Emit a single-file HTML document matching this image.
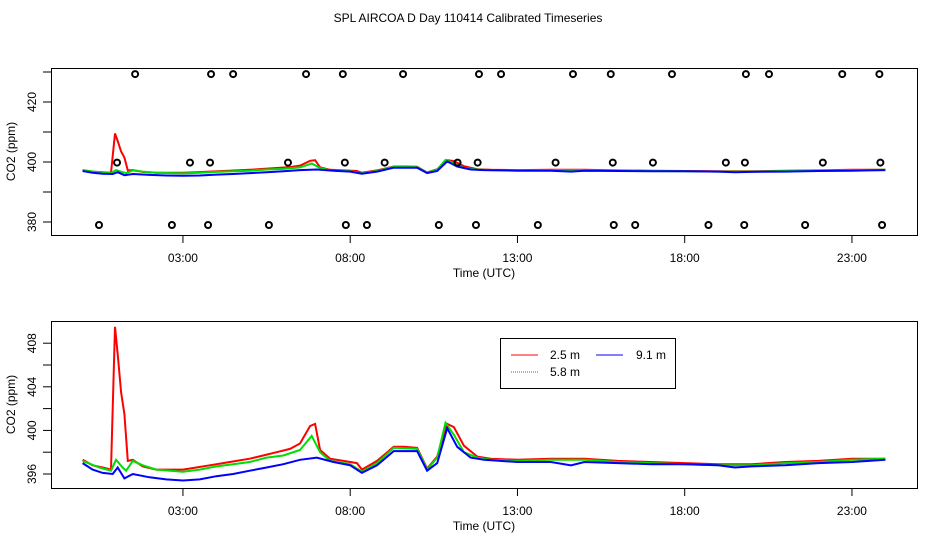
<!DOCTYPE html>
<html><head><meta charset="utf-8"><style>
html,body{margin:0;padding:0;background:#fff}
svg{display:block;font-family:"Liberation Sans",sans-serif}
</style></head><body>
<svg id="c" width="936" height="540" viewBox="0 0 936 540"></svg>
<script>
// Data (time in hours UTC, CO2 in ppm)
const redT=[0,.3,.6,.85,.9,.97,1.05,1.15,1.25,1.35,1.5,1.8,2.2,2.6,3.0,3.4,3.8,4.2,4.6,5.0,5.4,5.8,6.2,6.5,6.8,6.95,7.1,7.4,7.8,8.2,8.35,8.8,9.3,9.6,10.0,10.3,10.6,10.9,11.1,11.4,11.8,12.2,13,14,15,16,17,18,19,20,21,22,23,24];
const redV=[397.3,396.8,396.6,396.4,402,409.5,407,403.5,401.5,397.2,397.3,396.7,396.4,396.4,396.4,396.6,396.8,397,397.2,397.4,397.7,398,398.3,398.8,400.4,400.6,398.2,397.4,397.2,397.0,396.4,397.2,398.5,398.5,398.4,396.5,397.6,400.6,400.3,398.6,397.6,397.4,397.3,397.4,397.4,397.2,397.1,397.0,396.9,396.9,397.1,397.2,397.4,397.4];
const greenT=[0,.5,.85,1.0,1.2,1.3,1.5,1.8,2.2,3.0,3.5,4,4.5,5,5.5,6,6.5,6.85,7.1,7.4,8,8.35,8.8,9.3,10,10.3,10.6,10.85,11.1,11.4,11.8,12.2,13,14,15,16,17,18,19,20,21,22,23,24];
const greenV=[397.2,396.6,396.3,397.3,396.6,396.3,397.2,396.8,396.4,396.2,396.4,396.7,396.9,397.1,397.5,397.7,398.2,399.5,398,397.2,396.9,396.2,397,398.4,398.3,396.4,397.5,400.7,399.6,398,397.5,397.3,397.2,397.3,397.3,397.1,397.0,396.9,396.8,396.8,397.0,397.1,397.3,397.4];
const blueT=[0,.3,.6,.9,1.05,1.25,1.5,2,2.5,3,3.5,4,4.5,5,5.5,6,6.5,7,7.5,8,8.35,8.8,9.3,10,10.3,10.6,10.9,11.2,11.6,12,13,14,14.6,15,16,17,18,19,19.5,20,21,22,23,23.5,24];
const blueV=[397.0,396.4,396.1,396.0,396.6,395.6,396.0,395.7,395.5,395.4,395.5,395.8,396.0,396.3,396.6,396.9,397.3,397.5,397.1,396.8,396.1,396.8,398.1,398.1,396.3,397.0,400.2,398.5,397.5,397.3,397.1,397.1,396.8,397.1,397.0,396.9,396.9,396.8,396.6,396.7,396.8,397.0,397.1,397.2,397.3];
const flagTopT=[1.57,3.84,4.50,6.68,7.78,9.58,11.85,12.51,14.66,15.79,17.62,19.83,20.52,22.71,23.82];
const flagMidT=[1.03,3.21,3.81,6.14,7.84,9.03,11.21,11.81,14.14,15.85,17.05,19.23,19.80,22.13,23.85];
const flagLowT=[0.49,2.67,3.75,5.57,7.87,8.50,10.65,11.76,13.61,15.88,16.52,18.71,19.78,21.60,23.90];
const flagTopV=429.3, flagMidV=399.8, flagLowV=379;
const xTicks=[3,8,13,18,23];
const xTickLabels=["03:00","08:00","13:00","18:00","23:00"];
const y1Ticks=[380,390,400,410,420,430], y1Labels=[380,400,420];
const y2Ticks=[396,398,400,402,404,406,408], y2Labels=[396,400,404,408];

const svg=document.getElementById('c');
const NS='http://www.w3.org/2000/svg';
function mk(tag,attrs,parent){const e=document.createElementNS(NS,tag);for(const k in attrs)e.setAttribute(k,attrs[k]);(parent||svg).appendChild(e);return e;}
const X=t=>82.6+t*33.45;
const Y1=v=>162-(v-400)*3;
const Y2=v=>474-(v-396)*10.9;

let t=mk('text',{x:468,y:22,'text-anchor':'middle','font-size':12});
t.textContent='SPL AIRCOA D  Day 110414  Calibrated Timeseries';



function panel(top,bottom,Y,yt,yl,name){
  const g=mk('g',{});
  
  
  const r=mk('rect',{x:51.5,y:top+0.5,width:866,height:bottom-top,fill:'none',stroke:'#000','stroke-width':1},g);
  
  
  xTicks.forEach((h,i)=>{
    mk('line',{x1:X(h),x2:X(h),y1:bottom,y2:bottom+8,stroke:'#000','stroke-width':1},g);
    const l=mk('text',{x:X(h),y:bottom+27,'text-anchor':'middle','font-size':12},g);
    l.textContent=xTickLabels[i];
    
    
  });
  const xl=mk('text',{x:484,y:bottom+42,'text-anchor':'middle','font-size':12},g);
  xl.textContent='Time (UTC)';
  
  
  yt.forEach(v=>mk('line',{x1:43,x2:51,y1:Y(v),y2:Y(v),stroke:'#000','stroke-width':1},g));
  yl.forEach(v=>{
    const l=mk('text',{x:0,y:0,'text-anchor':'middle','font-size':12,transform:`translate(36,${Y(v)}) rotate(-90)`},g);
    l.textContent=v;
    
    
  });
  const yl2=mk('text',{x:0,y:0,'text-anchor':'middle','font-size':12,transform:`translate(15,${(top+bottom)/2}) rotate(-90)`},g);
  yl2.textContent='CO2 (ppm)';
  
  
  [[redT,redV,'#f00','line-2-5m'],[greenT,greenV,'#0d0','line-5-8m'],[blueT,blueV,'#00f','line-9-1m']].forEach(([ts,vs,c,n])=>{
    const p=mk('polyline',{points:ts.map((h,i)=>X(h).toFixed(1)+','+Y(vs[i]).toFixed(1)).join(' '),fill:'none',stroke:c,'stroke-width':2},g);
    
    
  });
  return g;
}
const g1=panel(68,235,Y1,y1Ticks,y1Labels,'top-panel');
[[flagTopT,flagTopV],[flagMidT,flagMidV],[flagLowT,flagLowV]].forEach(([ts,v])=>ts.forEach(h=>{
  const c=mk('circle',{cx:X(h),cy:Y1(v),r:3,fill:'none',stroke:'#000','stroke-width':2},g1);
  
  
}));
panel(321,488,Y2,y2Ticks,y2Labels,'bottom-panel');

const lg=mk('g',{});


mk('rect',{x:500.5,y:338.5,width:175,height:50,fill:'#fff',stroke:'#000'},lg);
[[511,355,'#f00','2.5 m',550,null],[596,355,'#00f','9.1 m',636,null],[511,372,'#0a0','5.8 m',550,'1,1']].forEach(([x,y,c,s,tx,d])=>{
  const a={x1:x,x2:x+27,y1:y,y2:y,stroke:c};if(d)a['stroke-dasharray']=d;
  mk('line',a,lg);
  const l=mk('text',{x:tx,y:y+4,'font-size':12},lg);
  l.textContent=s;
  
  
});
</script>
</body></html>
